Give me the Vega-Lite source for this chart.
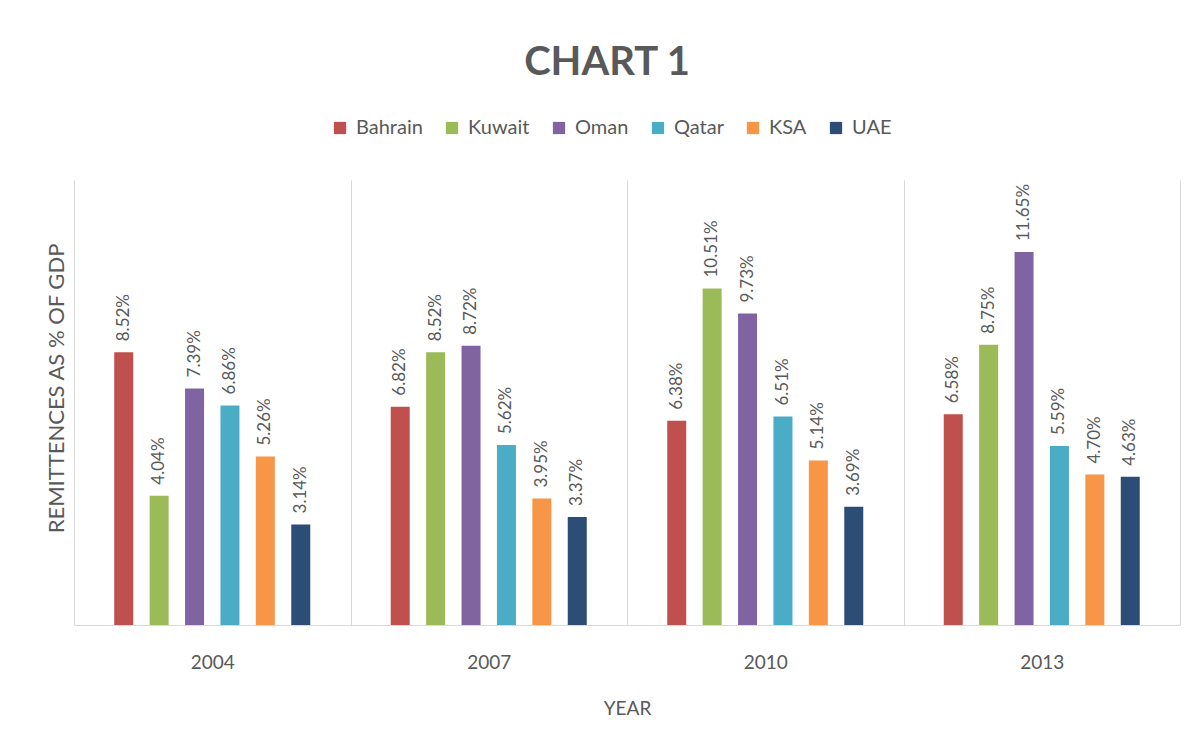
{
  "$schema": "https://vega.github.io/schema/vega-lite/v6.json",
  "autosize": "none",
  "width": 1106,
  "height": 445,
  "padding": {"left": 74, "top": 180, "right": 23, "bottom": 127},
  "background": "white",
  "title": {
    "text": "CHART 1",
    "fontSize": 40,
    "font": "Lato",
    "fontWeight": "bold",
    "color": "#595959",
    "anchor": "middle",
    "dx": -20,
    "offset": 35
  },
  "data": {
    "values": [
      {"year": "2004", "country": "Bahrain", "value": 0.0852},
      {"year": "2004", "country": "Kuwait", "value": 0.0404},
      {"year": "2004", "country": "Oman", "value": 0.0739},
      {"year": "2004", "country": "Qatar", "value": 0.0686},
      {"year": "2004", "country": "KSA", "value": 0.0526},
      {"year": "2004", "country": "UAE", "value": 0.0314},
      {"year": "2007", "country": "Bahrain", "value": 0.0682},
      {"year": "2007", "country": "Kuwait", "value": 0.0852},
      {"year": "2007", "country": "Oman", "value": 0.0872},
      {"year": "2007", "country": "Qatar", "value": 0.0562},
      {"year": "2007", "country": "KSA", "value": 0.0395},
      {"year": "2007", "country": "UAE", "value": 0.0337},
      {"year": "2010", "country": "Bahrain", "value": 0.0638},
      {"year": "2010", "country": "Kuwait", "value": 0.1051},
      {"year": "2010", "country": "Oman", "value": 0.0973},
      {"year": "2010", "country": "Qatar", "value": 0.0651},
      {"year": "2010", "country": "KSA", "value": 0.0514},
      {"year": "2010", "country": "UAE", "value": 0.0369},
      {"year": "2013", "country": "Bahrain", "value": 0.0658},
      {"year": "2013", "country": "Kuwait", "value": 0.0875},
      {"year": "2013", "country": "Oman", "value": 0.1165},
      {"year": "2013", "country": "Qatar", "value": 0.0559},
      {"year": "2013", "country": "KSA", "value": 0.0470},
      {"year": "2013", "country": "UAE", "value": 0.0463}
    ]
  },
  "encoding": {
    "x": {
      "field": "year",
      "type": "nominal",
      "scale": {"paddingInner": 0, "paddingOuter": 0},
      "axis": {
        "title": "YEAR",
        "labelAngle": 0,
        "labelFontSize": 19,
        "labelFont": "Lato",
        "labelColor": "#595959",
        "labelPadding": 28,
        "ticks": false,
        "tickBand": "extent",
        "grid": true,
        "gridColor": "#D9D9D9",
        "domainColor": "#D9D9D9",
        "titleFont": "Lato",
        "titleFontSize": 19,
        "titleFontWeight": "normal",
        "titleColor": "#595959",
        "titlePadding": 27
      }
    },
    "xOffset": {
      "field": "country",
      "type": "nominal",
      "sort": ["Bahrain", "Kuwait", "Oman", "Qatar", "KSA", "UAE"],
      "scale": {"paddingInner": 0, "paddingOuter": 0.905}
    },
    "y": {
      "field": "value",
      "type": "quantitative",
      "scale": {"domain": [0, 0.139]},
      "axis": {
        "title": "REMITTENCES AS % OF GDP",
        "labels": false,
        "ticks": false,
        "domain": false,
        "grid": false,
        "titleFont": "Lato",
        "titleFontSize": 22,
        "titleFontWeight": "normal",
        "titleColor": "#595959",
        "titlePadding": 6,
        "titleY": 208
      }
    },
    "color": {
      "field": "country",
      "type": "nominal",
      "sort": ["Bahrain", "Kuwait", "Oman", "Qatar", "KSA", "UAE"],
      "scale": {
        "domain": ["Bahrain", "Kuwait", "Oman", "Qatar", "KSA", "UAE"],
        "range": ["#C0504D", "#9BBB59", "#8064A2", "#4BACC6", "#F79646", "#2C4D75"]
      },
      "legend": {
        "title": null,
        "orient": "none",
        "direction": "horizontal",
        "legendX": 256,
        "legendY": -62,
        "symbolType": "square",
        "symbolSize": 150,
        "symbolStrokeWidth": 0,
        "labelFont": "Lato",
        "labelFontSize": 20,
        "labelColor": "#595959",
        "columnPadding": 19,
        "labelOffset": 6
      }
    }
  },
  "layer": [
    {"mark": {"type": "bar", "width": 19}},
    {
      "mark": {
        "type": "text",
        "angle": 270,
        "align": "left",
        "baseline": "middle",
        "dx": 11,
        "font": "Lato",
        "fontSize": 17,
        "color": "#595959"
      },
      "encoding": {
        "text": {"field": "value", "type": "quantitative", "format": ".2%"},
        "color": {"value": "#595959"}
      }
    }
  ],
  "config": {"view": {"stroke": null}}
}
